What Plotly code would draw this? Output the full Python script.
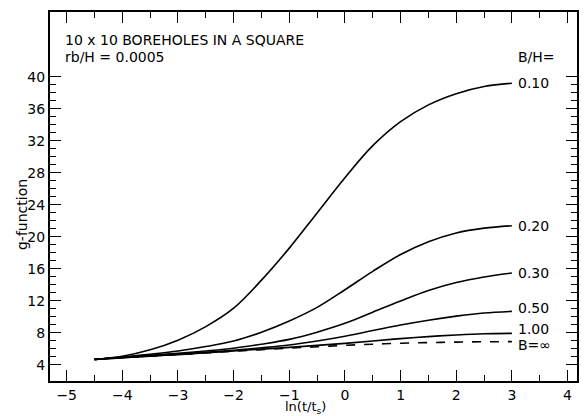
import plotly.graph_objects as go

x = [-4.5, -4.0, -3.5, -3.0, -2.5, -2.0, -1.5, -1.0, -0.5, 0.0, 0.5, 1.0, 1.5, 2.0, 2.5, 3.0]

g_010 = [4.7, 5.1, 5.9, 7.1, 8.8, 11.1, 14.6, 18.6, 23.0, 27.4, 31.4, 34.4, 36.5, 37.9, 38.8, 39.2]
g_020 = [4.7, 5.0, 5.35, 5.75, 6.3, 7.0, 8.1, 9.5, 11.2, 13.4, 15.7, 17.8, 19.4, 20.5, 21.1, 21.4]
g_030 = [4.7, 4.95, 5.2, 5.45, 5.75, 6.1, 6.6, 7.2, 8.1, 9.2, 10.6, 12.0, 13.3, 14.3, 15.0, 15.5]
g_050 = [4.7, 4.92, 5.12, 5.35, 5.6, 5.85, 6.15, 6.5, 7.0, 7.6, 8.3, 9.0, 9.6, 10.1, 10.5, 10.7]
g_100 = [4.7, 4.9, 5.1, 5.3, 5.52, 5.75, 5.98, 6.2, 6.45, 6.7, 7.0, 7.3, 7.55, 7.75, 7.9, 7.95]
g_inf = [4.7, 4.9, 5.1, 5.3, 5.5, 5.72, 5.92, 6.1, 6.28, 6.45, 6.6, 6.72, 6.8, 6.86, 6.9, 6.92]

labels = ["0.10", "0.20", "0.30", "0.50", "1.00", "B=\u221e"]
series = [g_010, g_020, g_030, g_050, g_100, g_inf]
label_shift = [0, 0, 0, 3, 4, -3]

x_ticks = [-5, -4, -3, -2, -1, 0, 1, 2, 3, 4]
y_ticks = [4, 8, 12, 16, 20, 24, 28, 32, 36, 40]
y_minor = [v for v in range(4, 41) if v % 4 != 0]
x_minor = [v + 0.5 for v in range(-6, 5)]

font = "DejaVu Sans"
fs = 14
fig = go.Figure()
for name, ys in zip(labels, series):
    fig.add_trace(go.Scatter(
        x=x, y=ys, mode="lines", name=name, line_shape="spline",
        line=dict(color="black", width=1.6, dash="dash" if name.startswith("B") else "solid"),
        showlegend=False, hoverinfo="skip"))

for name, ys, sh in zip(labels, series, label_shift):
    fig.add_annotation(x=3.08, y=ys[-1], text=name, showarrow=False, xanchor="left",
                       yshift=sh, font=dict(family=font, size=fs, color="black"))

fig.add_annotation(xref="paper", yref="paper", x=0.025, y=0.924, text="10 x 10 BOREHOLES IN A SQUARE",
                   showarrow=False, xanchor="left", yanchor="middle",
                   font=dict(family=font, size=fs, color="black"))
fig.add_annotation(xref="paper", yref="paper", x=0.025, y=0.878, text="rb/H = 0.0005",
                   showarrow=False, xanchor="left", yanchor="middle",
                   font=dict(family=font, size=fs, color="black"))
fig.add_annotation(x=3.08, y=40.0, yshift=20, text="B/H=", showarrow=False, xanchor="left",
                   font=dict(family=font, size=fs, color="black"))
fig.add_annotation(xref="paper", yref="paper", x=-0.053, y=0.45, text="g-function", textangle=-90,
                   showarrow=False, xanchor="center", yanchor="middle",
                   font=dict(family=font, size=fs, color="black"))
fig.add_annotation(xref="paper", yref="paper", x=0.485, y=0, yshift=-26, text="ln(t/t<sub>s</sub>)",
                   showarrow=False, xanchor="center", yanchor="middle",
                   font=dict(family=font, size=13, color="black"))

fig.update_xaxes(range=[-5.3, 4.17], tickvals=x_ticks, ticktext=[str(v).replace("-", "\u2212") for v in x_ticks],
                 ticks="inside", ticklen=11, tickwidth=1.3, tickcolor="black",
                 showline=True, linecolor="black", linewidth=2, mirror="allticks",
                 showgrid=False, zeroline=False, automargin=False,
                 minor=dict(tickvals=x_minor, ticks="inside", ticklen=6, tickwidth=1.2, tickcolor="black", showgrid=False),
                 tickfont=dict(family=font, size=fs, color="black"))
fig.update_yaxes(range=[2.0, 48.1], tickvals=y_ticks,
                 ticks="inside", ticklen=11, tickwidth=1.3, tickcolor="black",
                 showline=True, linecolor="black", linewidth=2, mirror="allticks",
                 showgrid=False, zeroline=False, automargin=False,
                 minor=dict(tickvals=y_minor, ticks="inside", ticklen=6, tickwidth=1.2, tickcolor="black", showgrid=False),
                 tickfont=dict(family=font, size=fs, color="black"))

# page body has an 8px margin, so the figure is offset by 8px right and down
fig.update_layout(width=579, height=408, margin=dict(l=42, r=10, t=4, b=35),
                  paper_bgcolor="white", plot_bgcolor="white")
fig.write_html("out.html")
